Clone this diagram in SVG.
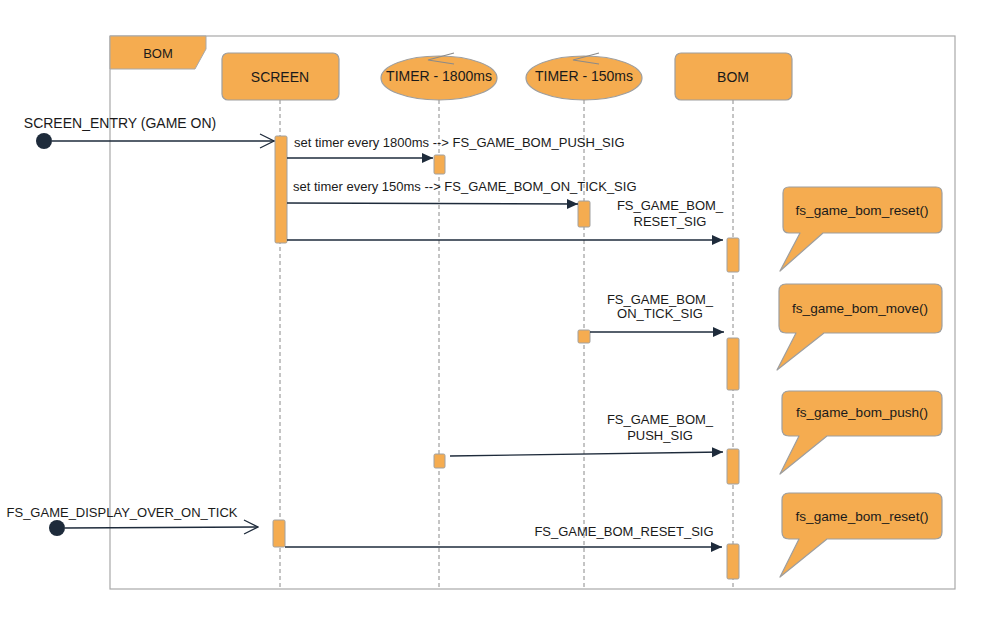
<svg xmlns="http://www.w3.org/2000/svg" width="988" height="633" viewBox="0 0 988 633">
<style>
  text{font-family:"Liberation Sans",Arial,sans-serif;font-size:13px;fill:#1a1a1a}
  .mid{text-anchor:middle}
  .big{font-size:14px}
  .nt{font-size:13.6px}
  .node{fill:#F5AC50;stroke:#9E9E9E;stroke-width:1.2}
  .act{fill:#F5AC50;stroke:#A0A0A0;stroke-width:1}
  .life{stroke:#8A8A8A;stroke-width:1;stroke-dasharray:4 3;fill:none}
  .msg{stroke:#1E2B3B;stroke-width:1.3;fill:none}
  .call{fill:#F5AC50;stroke:#9E9E9E;stroke-width:1.2;stroke-linejoin:round}
</style>
<defs>
  <marker id="fa" markerWidth="12" markerHeight="12" refX="11" refY="6" orient="auto" markerUnits="userSpaceOnUse">
    <path d="M0,1 L11,6 L0,11 Z" fill="#1E2B3B"/>
  </marker>
  <marker id="oa" markerWidth="16" markerHeight="16" refX="15" refY="8" orient="auto" markerUnits="userSpaceOnUse">
    <path d="M1,1 L15,8 L1,15" fill="none" stroke="#1E2B3B" stroke-width="1.2"/>
  </marker>
</defs>
<rect width="988" height="633" fill="#fff"/>
<g id="frame">
  <rect x="110" y="36" width="845" height="553" fill="none" stroke="#A8A8A8" stroke-width="1.2"/>
  <polygon points="110,36 206,36 206,49 195,69 110,69" fill="#F5AC50" stroke="#A8A8A8" stroke-width="1"/>
  <text x="158" y="58" class="mid">BOM</text>
</g>
<g id="lifelines">
  <line class="life" x1="280" y1="100" x2="280" y2="589"/>
  <line class="life" x1="439" y1="100" x2="439" y2="589"/>
  <line class="life" x1="584" y1="100" x2="584" y2="589"/>
  <line class="life" x1="733" y1="100" x2="733" y2="589"/>
</g>
<g id="screen">
  <rect class="node" x="222" y="53" width="117" height="47" rx="6"/>
  <text x="280" y="82" class="mid big">SCREEN</text>
</g>
<g id="timer1800">
  <ellipse class="node" cx="439" cy="78" rx="58" ry="22"/>
  <polyline points="454,53 428,60 454,64" fill="none" stroke="#8A8A8A" stroke-width="1.2"/>
  <text x="439" y="81" class="mid big">TIMER - 1800ms</text>
</g>
<g id="timer150">
  <ellipse class="node" cx="584" cy="78" rx="58" ry="22"/>
  <polyline points="599,53 573,60 599,64" fill="none" stroke="#8A8A8A" stroke-width="1.2"/>
  <text x="584" y="81" class="mid big">TIMER - 150ms</text>
</g>
<g id="bom">
  <rect class="node" x="675" y="53" width="117" height="47" rx="6"/>
  <text x="733" y="82" class="mid big">BOM</text>
</g>
<g id="activations">
  <rect class="act" x="275" y="136" width="12" height="107" rx="1.5"/>
  <rect class="act" x="434" y="155" width="11" height="19" rx="1.5"/>
  <rect class="act" x="578" y="201" width="12" height="26" rx="1.5"/>
  <rect class="act" x="727" y="238" width="12" height="34" rx="1.5"/>
  <rect class="act" x="578" y="330" width="12" height="13" rx="1.5"/>
  <rect class="act" x="727" y="338" width="12" height="52" rx="1.5"/>
  <rect class="act" x="434" y="454" width="11" height="14" rx="1.5"/>
  <rect class="act" x="727" y="449" width="12" height="35" rx="1.5"/>
  <rect class="act" x="273" y="520" width="12" height="27" rx="1.5"/>
  <rect class="act" x="727" y="544" width="12" height="35" rx="1.5"/>
</g>
<g id="start1">
  <circle cx="44" cy="141" r="8" fill="#1E2B3B"/>
</g>
<g id="start2">
  <circle cx="57" cy="528" r="8" fill="#1E2B3B"/>
</g>
<g id="connectors">
  <line class="msg" x1="52" y1="141" x2="274" y2="141" marker-end="url(#oa)"/>
  <text x="120" y="128" class="mid big">SCREEN_ENTRY (GAME ON)</text>
  <line class="msg" x1="287" y1="158" x2="433" y2="158" marker-end="url(#fa)"/>
  <text x="294" y="147">set timer every 1800ms --&gt; FS_GAME_BOM_PUSH_SIG</text>
  <line class="msg" x1="287" y1="203" x2="578" y2="204" marker-end="url(#fa)"/>
  <text x="293" y="191">set timer every 150ms --&gt; FS_GAME_BOM_ON_TICK_SIG</text>
  <line class="msg" x1="287" y1="240" x2="723" y2="240" marker-end="url(#fa)"/>
  <text x="670" y="210" class="mid">FS_GAME_BOM_</text>
  <text x="670" y="226" class="mid">RESET_SIG</text>
  <line class="msg" x1="590" y1="332" x2="724" y2="332" marker-end="url(#fa)"/>
  <text x="660" y="304" class="mid">FS_GAME_BOM_</text>
  <text x="660" y="318" class="mid">ON_TICK_SIG</text>
  <line class="msg" x1="450" y1="456" x2="723" y2="452" marker-end="url(#fa)"/>
  <text x="660" y="424" class="mid">FS_GAME_BOM_</text>
  <text x="660" y="440" class="mid">PUSH_SIG</text>
  <line class="msg" x1="65" y1="528" x2="258" y2="527" marker-end="url(#oa)"/>
  <text x="122" y="517" class="mid">FS_GAME_DISPLAY_OVER_ON_TICK</text>
  <line class="msg" x1="285" y1="547" x2="722" y2="547" marker-end="url(#fa)"/>
  <text x="624" y="536" class="mid">FS_GAME_BOM_RESET_SIG</text>
</g>
<g id="note1">
  <path class="call" d="M791,187 H936 Q942,187 942,193 V227 Q942,233 936,233 H823 L780,271 L800,233 H789 Q783,233 783,227 V193 Q783,187 789,187 Z"/>
  <text x="862" y="215" class="mid nt">fs_game_bom_reset()</text>
</g>
<g id="note2">
  <path class="call" d="M786,284 H935 Q942,284 942,291 V326 Q942,333 935,333 H824 L777,370 L796,333 H786 Q779,333 779,326 V291 Q779,284 786,284 Z"/>
  <text x="860" y="313" class="mid nt">fs_game_bom_move()</text>
</g>
<g id="note3">
  <path class="call" d="M789,391 H935 Q942,391 942,398 V429 Q942,436 935,436 H827 L780,474 L799,436 H789 Q782,436 782,429 V398 Q782,391 789,391 Z"/>
  <text x="862" y="417" class="mid nt">fs_game_bom_push()</text>
</g>
<g id="note4">
  <path class="call" d="M789,493 H935 Q942,493 942,500 V532 Q942,539 935,539 H827 L780,577 L799,539 H789 Q782,539 782,532 V500 Q782,493 789,493 Z"/>
  <text x="862" y="521" class="mid nt">fs_game_bom_reset()</text>
</g>
</svg>
